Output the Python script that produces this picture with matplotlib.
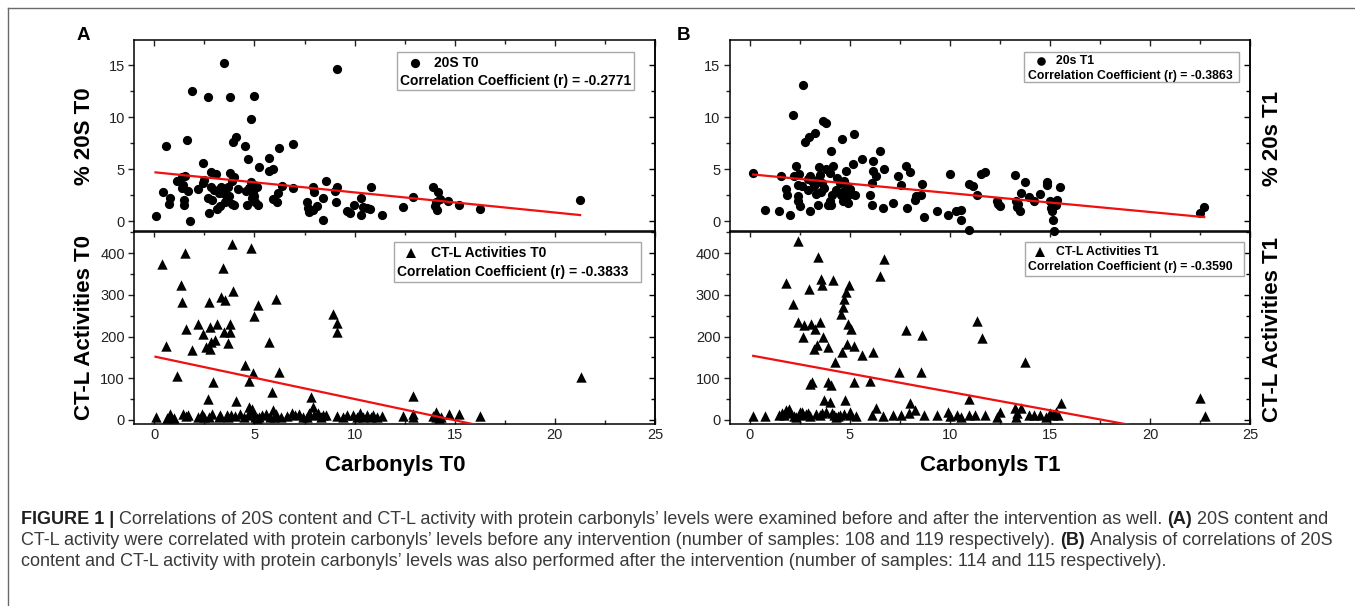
# %%
# %% Bibliotecas
import numpy as np
import matplotlib
matplotlib.use('Agg')
import matplotlib.pyplot as plt
from matplotlib.patches import Rectangle
from matplotlib.lines import Line2D
from matplotlib.ticker import MultipleLocator

plt.rcParams['font.family'] = ['Liberation Sans', 'DejaVu Sans']

# %% Dados
# (A) 20S T0
a_top_x = [0.06, 0.44, 0.6, 0.76, 0.73, 1.15, 1.36, 1.43, 1.47, 1.47, 1.55, 1.62, 1.68, 1.76, 1.87,
           2.2, 2.43, 2.43, 2.66, 2.7, 2.73, 2.83, 2.83, 2.96, 3.1, 3.15, 3.3, 3.35, 3.46, 3.44,
           3.54, 3.67, 3.73, 3.8, 3.8, 3.86, 3.92, 3.96, 4.0, 4.1, 4.55, 4.65, 4.68, 4.72, 4.82,
           4.82, 4.88, 4.93, 4.97, 4.97, 5.05, 5.12, 5.2, 5.22, 5.72, 5.74, 5.93, 5.95, 6.12, 6.17,
           6.25, 6.37, 6.9, 6.9, 7.6, 7.65, 7.7, 7.9, 7.93, 7.97, 8.13, 8.4, 8.43, 8.55, 9.0,
           9.12, 9.14, 9.08, 9.6, 9.75, 9.98, 10.3, 10.3, 10.43, 10.6, 10.77, 10.8, 11.38, 12.43, 12.9,
           13.9, 14.05, 14.1, 14.17, 14.24, 14.67, 15.2, 16.25, 21.26, 3.25, 3.6, 4.6, 4.9, 3.5,
           2.5, 1.4, 4.2, 5.0, 2.9, 3.9, 14.0]
a_top_y = [0.48, 2.8, 7.2, 2.25, 1.7, 3.9, 4.3, 3.5, 2.1, 1.6, 4.4, 7.85, 2.9, 0.03, 12.5,
           3.1, 5.6, 3.7, 11.9, 2.25, 0.8, 4.75, 3.35, 2.98, 4.6, 1.2, 1.45, 3.35, 15.2, 2.7,
           1.9, 3.35, 2.4, 11.95, 4.65, 3.85, 7.65, 4.3, 1.55, 8.1, 7.2, 1.55, 6.0, 3.2, 9.85,
           3.75, 2.25, 2.7, 12.0, 3.5, 1.9, 3.35, 1.55, 5.25, 6.1, 4.85, 5.0, 2.2, 1.85, 2.7,
           7.05, 3.4, 7.45, 3.2, 1.85, 1.3, 0.95, 1.1, 3.35, 2.8, 1.5, 2.25, 0.16, 3.9, 2.9,
           14.65, 3.3, 1.9, 1.0, 0.8, 1.6, 2.25, 0.58, 1.35, 1.3, 1.2, 3.35, 0.58, 1.38, 2.3,
           3.35, 1.85, 1.1, 2.8, 2.2, 2.0, 1.55, 1.2, 2.1, 2.7, 1.95, 2.9, 2.95, 3.1,
           4.0, 3.2, 3.1, 2.4, 2.1, 1.7, 1.5]
a_top_fit = (4.72, -0.193)   # intercepto, inclinacao
a_top_r = '-0.2771'

# (A) CT-L T0
a_bot_x = [0.06, 0.4, 0.6, 0.63, 0.8, 0.75, 1.15, 1.32, 1.36, 1.44, 1.51, 1.59, 1.7, 1.86, 2.16,
           2.36, 2.43, 2.5, 2.6, 2.68, 2.72, 2.74, 2.78, 2.78, 2.85, 2.93, 3.05, 3.12, 3.24, 3.31,
           3.41, 3.47, 3.54, 3.62, 3.66, 3.77, 3.77, 3.85, 3.89, 3.93, 4.04, 4.1, 4.52, 4.66, 4.75,
           4.75, 4.85, 4.85, 4.94, 5.0, 5.04, 5.13, 5.19, 5.23, 5.71, 5.79, 5.9, 5.92, 6.1, 6.1,
           6.23, 6.32, 6.88, 7.0, 7.42, 7.72, 7.82, 7.91, 7.95, 8.15, 8.41, 8.56, 8.91, 9.1, 9.14,
           9.1, 9.64, 9.92, 10.29, 10.4, 10.6, 10.82, 11.38, 12.41, 12.93, 12.93, 14.04, 14.08, 14.2, 14.71,
           15.23, 16.28, 21.3, 1.0, 1.6, 2.2, 2.9, 3.3, 3.7, 4.3, 4.5, 5.4, 6.0, 6.6,
           7.2, 7.6, 8.3, 9.4, 10.1, 10.9, 11.1, 13.9, 14.3, 12.9, 5.6, 4.9, 4.8]
a_bot_y = [8, 374, 178, 4, 14, 6, 106, 324, 282, 14, 400, 218, 12, 167, 230,
           14, 206, 8, 174, 49, 284, 8, 222, 170, 188, 90, 192, 230, 8, 294,
           364, 210, 288, 12, 185, 230, 212, 12, 422, 310, 10, 46, 132, 12, 30,
           94, 412, 20, 113, 250, 8, 4, 276, 8, 188, 8, 68, 24, 290, 14,
           116, 8, 16, 12, 8, 16, 55, 32, 12, 16, 12, 12, 254, 10, 232,
           212, 12, 12, 16, 8, 12, 8, 10, 10, 14, 57, 6, 20, 4, 14,
           14, 10, 102, 5, 10, 6, 14, 12, 6, 14, 8, 12, 6, 10,
           14, 6, 8, 8, 6, 12, 6, 10, 8, 6, 14, 26, 16]
a_bot_fit = (152.0, -10.2)
a_bot_r = '-0.3833'

# (B) 20s T1
b_top_x = [0.16, 0.75, 1.43, 1.54, 1.82, 1.86, 2.02, 2.22, 2.32, 2.38, 2.42, 2.42, 2.51, 2.46, 2.67,
           2.16, 2.77, 2.97, 3.27, 3.0, 2.91, 3.0, 3.1, 3.2, 3.36, 3.4, 3.44, 3.52, 3.56, 3.6,
           3.66, 3.8, 3.9, 4.0, 4.06, 4.1, 4.14, 4.06, 4.36, 4.5, 4.55, 4.6, 4.65, 4.69, 4.79,
           4.87, 4.89, 4.99, 5.13, 5.19, 5.23, 5.58, 6.02, 6.08, 6.08, 6.14, 6.14, 6.28, 6.5, 6.63,
           6.69, 7.17, 7.41, 7.56, 7.8, 7.86, 8.0, 8.26, 8.55, 8.59, 8.71, 9.35, 9.9, 9.98, 10.3,
           10.57, 10.57, 10.93, 10.97, 11.15, 11.33, 11.53, 11.73, 12.36, 12.48, 13.27, 13.3, 13.35, 13.5, 13.54,
           13.74, 13.94, 14.2, 14.5, 14.85, 14.85, 14.99, 15.05, 15.13, 15.19, 15.29, 15.33, 15.49, 22.51,
           22.71, 3.7, 4.3, 4.8, 2.9, 3.3, 4.7, 5.0, 3.8, 2.6, 4.0, 13.4, 15.1, 12.4, 8.3]
b_top_y = [4.67, 1.13, 0.96, 4.34, 3.12, 2.57, 0.64, 4.34, 5.3, 3.47, 2.41, 1.93, 1.45, 4.57, 13.1,
           10.2, 7.6, 8.1, 8.5, 4.34, 3.05, 0.96, 3.86, 3.38, 4.0, 1.61, 5.24, 4.5, 2.8, 3.7,
           9.6, 9.4, 1.61, 4.66, 6.75, 2.57, 5.3, 1.61, 4.18, 3.7, 2.5, 7.9, 1.93, 2.9, 4.82,
           3.38, 1.77, 2.67, 5.53, 8.36, 2.57, 6.0, 2.57, 3.7, 1.61, 4.82, 5.79, 4.34, 6.8, 1.29,
           5.05, 1.77, 4.34, 3.54, 5.3, 1.29, 4.73, 2.09, 2.57, 3.6, 0.39, 1.03, 0.64, 4.57, 0.96,
           1.13, 0.16, 3.6, -0.85, 3.38, 2.57, 4.6, 4.73, 1.93, 1.5, 4.5, 1.93, 1.38, 0.96, 2.73,
           3.76, 2.31, 1.93, 2.67, 3.47, 3.76, 1.93, 1.29, 0.16, -0.95, 1.61, 2.09, 3.3, 0.8,
           1.38, 3.2, 3.0, 2.2, 4.1, 2.6, 3.9, 3.1, 5.0, 3.4, 2.0, 1.7, 1.0, 1.7, 2.4]
b_top_fit = (4.53, -0.181)
b_top_r = '-0.3863'

# (B) CT-L T1
b_bot_x = [0.16, 0.75, 1.43, 1.58, 1.68, 1.82, 1.82, 1.86, 2.14, 2.22, 2.38, 2.42, 2.51, 2.57, 2.65,
           2.71, 2.81, 2.97, 3.0, 3.05, 3.1, 3.2, 3.27, 3.31, 3.37, 3.4, 3.52, 3.56, 3.6, 3.6,
           3.64, 3.7, 3.9, 3.9, 4.0, 4.06, 4.14, 4.2, 4.24, 4.3, 4.5, 4.55, 4.6, 4.65, 4.69,
           4.75, 4.79, 4.87, 4.89, 4.93, 4.99, 5.05, 5.19, 5.19, 5.29, 5.58, 6.02, 6.08, 6.14, 6.28,
           6.5, 6.63, 6.71, 7.17, 7.43, 7.56, 7.8, 7.96, 8.0, 8.26, 8.55, 8.59, 8.71, 9.35, 9.9,
           10.0, 10.34, 10.57, 10.93, 10.97, 11.23, 11.37, 11.58, 11.76, 12.36, 12.48, 13.27, 13.3, 13.37, 13.54,
           13.74, 13.94, 14.2, 14.5, 14.8, 14.99, 15.13, 15.29, 15.39, 15.53, 22.51, 22.77, 2.0, 2.3, 2.6,
           2.9, 3.5, 3.8, 4.1, 4.4, 4.7, 5.0, 1.95, 3.0]
b_bot_y = [10, 10, 12, 16, 12, 329, 24, 16, 279, 10, 430, 235, 20, 12, 199,
           227, 14, 315, 85, 231, 92, 171, 218, 14, 179, 392, 235, 337, 324, 16,
           199, 48, 175, 92, 44, 84, 335, 12, 139, 8, 12, 255, 163, 271, 289,
           48, 307, 183, 229, 323, 12, 219, 178, 92, 10, 155, 93, 12, 163, 29,
           345, 10, 386, 12, 115, 12, 215, 16, 41, 24, 115, 203, 12, 12, 18,
           10, 12, 8, 50, 12, 12, 237, 197, 12, 8, 18, 28, 8, 16, 28,
           139, 12, 12, 12, 6, 16, 12, 20, 12, 41, 53, 10, 18, 8, 18,
           16, 12, 20, 16, 10, 14, 18, 26, 10]
b_bot_fit = (155.0, -8.8)
b_bot_r = '-0.3590'

caption = [
    [('FIGURE 1 |', True), ('Correlations of 20S content and CT-L activity with protein carbonyls\u2019 levels '
      'were examined before and after the intervention as well.', False), ('(A)', True),
     ('20S content and', False)],
    [('CT-L activity were correlated with protein carbonyls\u2019 levels before any intervention '
      '(number of samples: 108 and 119 respectively).', False), ('(B)', True),
     ('Analysis of correlations of 20S', False)],
    [('content and CT-L activity with protein carbonyls\u2019 levels was also performed after the '
      'intervention (number of samples: 114 and 115 respectively).', False)],
]

# %% Figura
W, H = 1355, 606
fig = plt.figure(figsize=(W / 100, H / 100), dpi=100)


def fx(x):
    return x / W


def fy(y):
    return 1 - y / H


def make_axes(left, right, top, bottom):
    return fig.add_axes([fx(left), fy(bottom), (right - left) / W, (bottom - top) / H])


def style(ax, ylim, ymaj, ymin, xlabels):
    ax.set_facecolor('none')
    ax.set_xlim(-1, 25)
    ax.set_ylim(*ylim)
    ax.xaxis.set_major_locator(MultipleLocator(5))
    ax.xaxis.set_minor_locator(MultipleLocator(2.5))
    ax.yaxis.set_major_locator(MultipleLocator(ymaj))
    ax.yaxis.set_minor_locator(MultipleLocator(ymin))
    for s in ax.spines.values():
        s.set_linewidth(1.1)
    ax.tick_params(axis='y', which='both', direction='out', right=False, labelsize=10.5,
                   width=1, colors='#222222', pad=2.5)
    ax.tick_params(axis='y', which='major', length=4.3)
    ax.tick_params(axis='y', which='minor', length=3)
    ax.tick_params(axis='x', which='both', direction='in', top=True, bottom=xlabels,
                   labelbottom=xlabels, labelsize=10.5, width=1, colors='#222222', pad=3)
    ax.tick_params(axis='x', which='major', length=4.3)
    ax.tick_params(axis='x', which='minor', length=3)
    sec = ax.secondary_yaxis('right')
    sec.yaxis.set_major_locator(MultipleLocator(ymaj))
    sec.yaxis.set_minor_locator(MultipleLocator(ymin))
    sec.tick_params(which='both', direction='in', labelright=False, width=1)
    sec.tick_params(which='major', length=4.3)
    sec.tick_params(which='minor', length=3)
    sec.spines['right'].set_linewidth(1.1)


def draw(ax, x, y, fit, marker, size):
    ax.scatter(x, y, s=size, c='black', marker=marker, linewidths=0, clip_on=False, zorder=3)
    xs = np.array([min(x), max(x)])
    ax.plot(xs, fit[0] + fit[1] * xs, color='#f01010', lw=1.6, zorder=4)


def legend_box(x0, y0, x1, y1, mx, my, marker, size, label, tx, ty, r, fs):
    fig.add_artist(Rectangle((fx(x0), fy(y1)), (x1 - x0) / W, (y1 - y0) / H, transform=fig.transFigure,
                             facecolor='white', edgecolor='#a8a8a8', lw=1, zorder=5))
    fig.add_artist(Line2D([fx(mx)], [fy(my)], marker=marker, markersize=np.sqrt(size), color='black',
                          markeredgewidth=0, transform=fig.transFigure, zorder=6))
    fig.text(fx(tx), fy(my), label, fontsize=fs, fontweight='bold', va='center', ha='left', zorder=6)
    fig.text(fx(x0 + 3.5), fy(ty), 'Correlation Coefficient (r) = ' + r, fontsize=fs,
             fontweight='bold', va='center', ha='left', zorder=6)


ax_at = make_axes(134.3, 655, 40, 231.5)
ax_ab = make_axes(134.3, 655, 231.5, 424)
ax_bt = make_axes(730, 1250, 40, 231.5)
ax_bb = make_axes(730, 1250, 231.5, 424)

style(ax_at, (-0.96, 17.4), 5, 2.5, False)
style(ax_bt, (-0.96, 17.4), 5, 2.5, False)
style(ax_ab, (-10, 452), 100, 50, True)
style(ax_bb, (-10, 452), 100, 50, True)

draw(ax_at, a_top_x, a_top_y, a_top_fit, 'o', 44)
draw(ax_ab, a_bot_x, a_bot_y, a_bot_fit, '^', 56)
draw(ax_bt, b_top_x, b_top_y, b_top_fit, 'o', 44)
draw(ax_bb, b_bot_x, b_bot_y, b_bot_fit, '^', 56)

# %% Legendas
legend_box(397, 52, 634, 90, 415, 62.7, 'o', 44, '20S T0', 434, 81, a_top_r, 10)
legend_box(393.6, 242, 641, 282, 411, 253, '^', 56, 'CT-L Activities T0', 431, 271.7, a_bot_r, 10)
legend_box(1024, 52, 1239, 82, 1041, 60.7, 'o', 38, '20s T1', 1056, 76, b_top_r, 8.8)
legend_box(1025, 242, 1244, 276, 1040.4, 252, '^', 48, 'CT-L Activities T1', 1056, 267, b_bot_r, 8.8)

# %% Rotulos dos eixos
lab = dict(fontsize=16, fontweight='bold', rotation=90, ha='center', va='center')
fig.text(fx(85), fy(136), '% 20S T0', **lab)
fig.text(fx(85), fy(328), 'CT-L Activities T0', **lab)
fig.text(fx(1273), fy(138), '% 20s T1', **lab)
fig.text(fx(1273), fy(330), 'CT-L Activities T1', **lab)
fig.text(fx(395), fy(466), 'Carbonyls T0', fontsize=16, fontweight='bold', ha='center', va='center')
fig.text(fx(990), fy(466), 'Carbonyls T1', fontsize=16, fontweight='bold', ha='center', va='center')
fig.text(fx(77), fy(36), 'A', fontsize=13.5, fontweight='bold', ha='left', va='center')
fig.text(fx(677), fy(36), 'B', fontsize=13.5, fontweight='bold', ha='left', va='center')

# %% Moldura
fig.add_artist(Line2D([fx(8), fx(W)], [fy(8), fy(8)], color='#6a6a6a', lw=1, transform=fig.transFigure))
fig.add_artist(Line2D([fx(8), fx(8)], [fy(8), fy(H)], color='#6a6a6a', lw=1, transform=fig.transFigure))

# %% Legenda da figura (texto)
cap_family = ['Liberation Sans Narrow', 'Liberation Sans', 'DejaVu Sans']
renderer = fig.canvas.get_renderer()


def text_w(s, size, bold):
    t = fig.text(0, 0, s, fontsize=size, fontweight='bold' if bold else 'normal', family=cap_family)
    w = t.get_window_extent(renderer).width
    t.remove()
    return w


def line_w(parts, size):
    sp = text_w('a a', size, False) - text_w('aa', size, False)
    return sum(text_w(s, size, b) for s, b in parts) + sp * (len(parts) - 1)


cap_x0, cap_x1 = 21, 1336
cap_size = 10 * (cap_x1 - cap_x0) / line_w(caption[0], 10)
space = text_w('a a', cap_size, False) - text_w('aa', cap_size, False)
for parts, y in zip(caption, [519, 540.5, 562]):
    x = cap_x0
    for s, b in parts:
        t = fig.text(fx(x), fy(y), s, fontsize=cap_size, fontweight='bold' if b else 'normal',
                     color='#1e1e1e' if b else '#3a3a3a', family=cap_family, ha='left', va='center')
        x += t.get_window_extent(renderer).width + space

fig.savefig('out.png', dpi=100, facecolor='white')
